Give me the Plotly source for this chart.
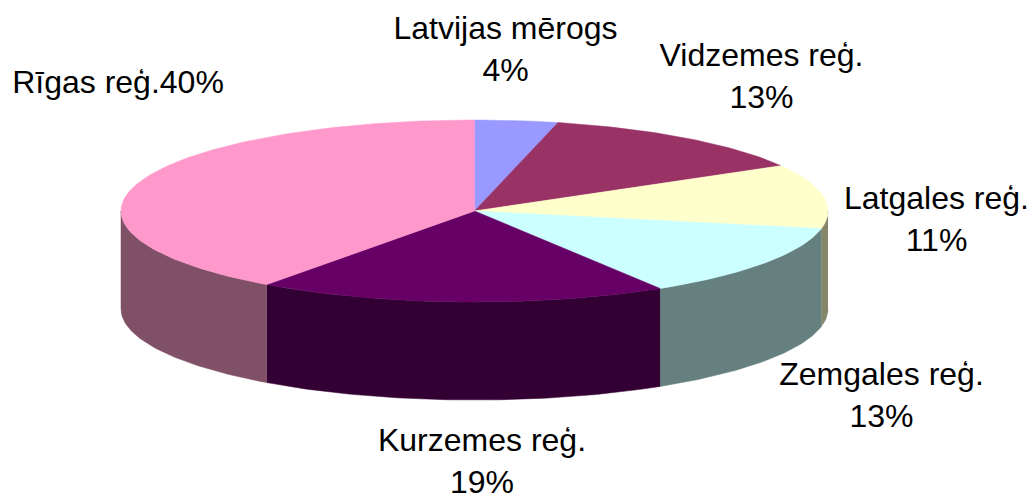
import math
import plotly.graph_objects as go

categories = ["Latvijas mērogs", "Vidzemes reģ.", "Latgales reģ.", "Zemgales reģ.", "Kurzemes reģ.", "Rīgas reģ."]
values = [3.8, 12.9, 11.4, 13.1, 18.8, 40.0]
top_colors = ["#9999FF", "#993366", "#FFFFCC", "#CCFFFF", "#660066", "#FF99CC"]
side_colors = ["#666699", "#663344", "#858568", "#668080", "#330033", "#805066"]
label_texts = ["Latvijas mērogs<br>4%", "Vidzemes reģ.<br>13%", "Latgales reģ.<br>11%",
               "Zemgales reģ.<br>13%", "Kurzemes reģ.<br>19%", "Rīgas reģ.40%"]
label_x = [505.5, 761.5, 936.5, 881.5, 482, 118]
label_y = [52, 79, 222, 398, 464, 85]

W, H = 1031, 493
CX, CY, RX, RY, DEPTH = 474.5, 211, 353.5, 91, 98
STEPS = 1.0  # degrees per polygon step


def px(theta):
    return CX + RX * math.sin(theta), CY - RY * math.cos(theta)


def arc(a, b):
    n = max(2, int(abs(b - a) / math.radians(STEPS)))
    return [a + (b - a) * i / n for i in range(n + 1)]


fig = go.Figure()
total = sum(values)
angles = [0]
for v in values:
    angles.append(angles[-1] + v / total * 2 * math.pi)


def poly(xs, ys, color):
    fig.add_trace(go.Scatter(x=xs, y=ys, mode="lines", fill="toself", fillcolor=color,
                             line=dict(color=color, width=0.5), hoverinfo="skip", showlegend=False))


# outer walls: only the front half (pi/2 .. 3pi/2) is visible
for i in range(len(values)):
    a = max(angles[i], math.pi / 2)
    b = min(angles[i + 1], 3 * math.pi / 2)
    if b <= a:
        continue
    pts = [px(t) for t in arc(a, b)]
    xs = [p[0] for p in pts] + [p[0] for p in reversed(pts)]
    ys = [p[1] for p in pts] + [p[1] + DEPTH for p in reversed(pts)]
    poly(xs, ys, side_colors[i])

# top faces
for i in range(len(values)):
    pts = [px(t) for t in arc(angles[i], angles[i + 1])]
    poly([CX] + [p[0] for p in pts] + [CX], [CY] + [p[1] for p in pts] + [CY], top_colors[i])

fig.add_trace(go.Scatter(x=label_x, y=label_y, mode="text", text=label_texts, textposition="middle center",
                         textfont=dict(family="Liberation Sans", size=32, color="#000000"),
                         hoverinfo="skip", showlegend=False, cliponaxis=False))

fig.update_layout(width=W, height=H, margin=dict(l=0, r=0, t=0, b=0),
                  paper_bgcolor="white", plot_bgcolor="white", showlegend=False,
                  xaxis=dict(range=[0, W], visible=False, fixedrange=True),
                  yaxis=dict(range=[H, 0], visible=False, fixedrange=True))
fig.write_html("out.html", config={"displayModeBar": False},
               default_width=f"{W}px", default_height=f"{H}px",
               post_script="document.body.style.margin='0';document.documentElement.style.overflow='hidden';")
